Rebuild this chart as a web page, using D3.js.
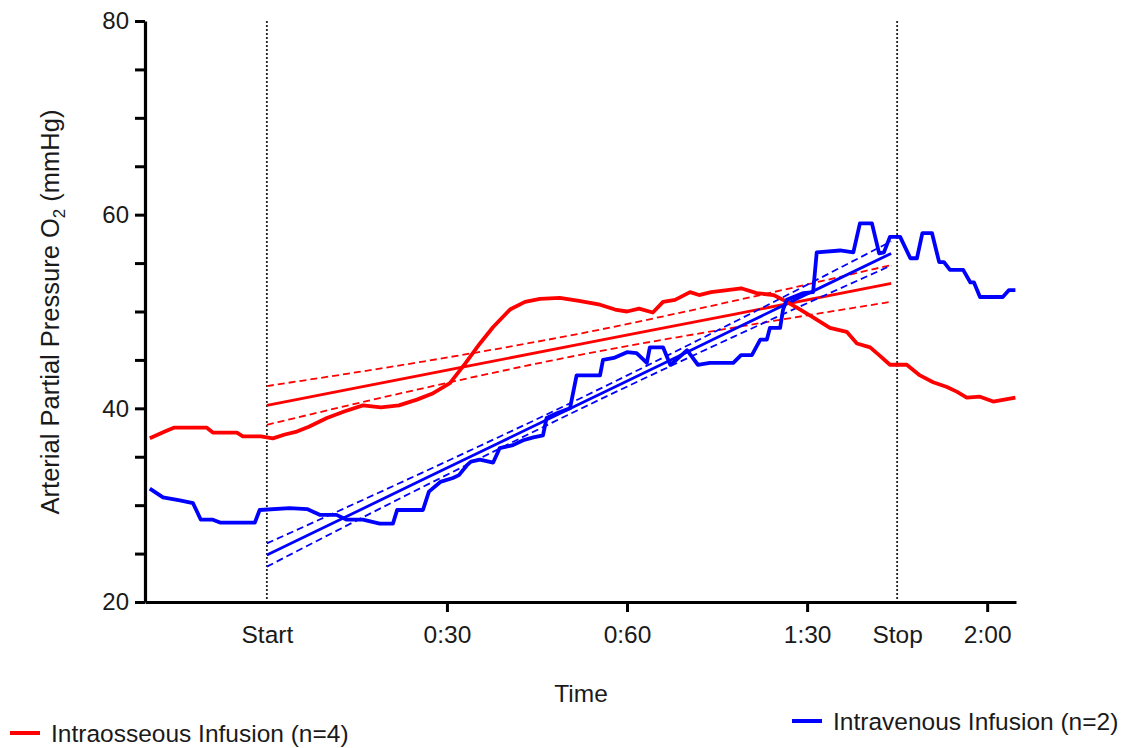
<!DOCTYPE html>
<html>
<head>
<meta charset="utf-8">
<script src="https://cdn.jsdelivr.net/npm/d3@7"></script>
<style>
  body { margin: 0; background: #fff; }
  text { font-family: "Liberation Sans", Arial, sans-serif; }
</style>
</head>
<body>
<div id="chart-area"></div>
<script>
// time in seconds after start, PaO2 in mmHg
const ioTime = [-19.5, -17, -15.5, -10, -9, -5, -4, -1, 0, 1, 3, 5, 7, 10, 13, 16, 19, 22, 25, 27.5, 30.5, 33, 35.5, 37.7, 40.5, 43, 45.5, 48.8, 52, 55.5, 58, 60, 62, 64.3, 66, 68, 70.5, 72, 74, 76.7, 79, 81.6, 84.4, 86, 88.3, 91, 93.8, 96.6, 98.3, 100.5, 102, 103.8, 106.6, 108.8, 111, 113.3, 115, 116.6, 118.8, 121, 124.7]
const ioValue = [36.9, 37.6, 38.0, 38.0, 37.5, 37.5, 37.1, 37.1, 37.0, 36.9, 37.3, 37.6, 38.1, 39.0, 39.7, 40.3, 40.1, 40.3, 40.9, 41.5, 42.6, 44.6, 46.7, 48.4, 50.2, 51.0, 51.3, 51.4, 51.1, 50.7, 50.2, 50.0, 50.3, 49.9, 51.0, 51.2, 52.0, 51.7, 52.0, 52.2, 52.4, 51.9, 51.7, 51.2, 50.4, 49.4, 48.3, 47.9, 46.7, 46.3, 45.5, 44.5, 44.5, 43.4, 42.7, 42.2, 41.7, 41.1, 41.2, 40.7, 41.1]

const ivTime = [-19.5, -17.3, -14.5, -12.3, -11, -9, -7.8, -2, -1.2, 3.8, 6.7, 8.8, 11.6, 13.3, 16, 18.8, 21, 21.7, 26, 27, 28.9, 31, 32, 33.3, 34, 35.5, 37.7, 38.8, 41, 42.7, 44.4, 46, 46.6, 48.3, 50.5, 51.6, 55.5, 56, 57.8, 60, 61.6, 63.3, 63.8, 66, 67.2, 68.2, 70, 71.8, 73.8, 77.7, 79, 80.8, 82.2, 83.3, 83.8, 85.5, 86, 86.6, 89.4, 91, 91.6, 95.5, 97.7, 98.8, 100.8, 102, 102.8, 103.8, 105.5, 107.2, 108.3, 109.2, 110.8, 112, 112.8, 113.8, 116, 117.2, 117.8, 118.8, 122.6, 123.6, 124.7]
const ivValue = [31.7, 30.8, 30.5, 30.2, 28.5, 28.5, 28.2, 28.2, 29.5, 29.7, 29.6, 29.0, 29.0, 28.5, 28.5, 28.1, 28.1, 29.5, 29.5, 31.4, 32.4, 32.8, 33.1, 34.1, 34.5, 34.7, 34.4, 35.9, 36.2, 36.7, 37.0, 37.2, 39.0, 39.5, 40.0, 43.4, 43.4, 45.0, 45.2, 45.8, 45.7, 44.7, 46.3, 46.3, 44.5, 45.0, 46.0, 44.5, 44.7, 44.7, 45.5, 45.5, 47.1, 47.1, 48.3, 48.3, 50.2, 51.2, 51.9, 52.0, 56.1, 56.3, 56.1, 59.1, 59.1, 56.0, 56.1, 57.7, 57.7, 55.5, 55.5, 58.1, 58.1, 55.1, 55.1, 54.3, 54.3, 53.0, 53.0, 51.5, 51.5, 52.2, 52.2]

// regression fits with 95% bands, read at these times
const fitTime = [0, 26, 52, 78, 104]
const ioFit = [40.3, 43.45, 46.6, 49.74, 52.9]
const ioUpper = [42.3, 44.83, 47.7, 51.12, 54.8]
const ioLower = [38.3, 42.07, 45.5, 48.36, 51.0]
const ivFit = [24.85, 32.64, 40.42, 48.21, 56.0]
const ivUpper = [26.05, 33.39, 40.97, 48.96, 57.25]
const ivLower = [23.65, 31.89, 39.87, 47.46, 54.75]

const xTicks = [0, 30, 60, 90, 105, 120]
const xTickLabels = ["Start", "0:30", "0:60", "1:30", "Stop", "2:00"]
const markerTimes = [0, 105]
const yTicks = [20, 40, 60, 80]

const RED = "#ff0000"
const BLUE = "#0000ff"
const INK = "#1a1a1a"

const svg = d3.select("#chart-area").append("svg")
  .attr("width", 1127)
  .attr("height", 748)

const x = d3.scaleLinear().domain([-20.3, 124.8]).range([145, 1016])
const y = d3.scaleLinear().domain([20, 80]).range([602, 21])

// dotted start / stop markers
svg.selectAll(".marker")
  .data(markerTimes)
  .enter().append("line")
  .attr("x1", d => x(d)).attr("x2", d => x(d))
  .attr("y1", y(80)).attr("y2", y(20))
  .attr("stroke", "#222")
  .attr("stroke-width", 1.8)
  .attr("stroke-dasharray", "2,2")

const line = d3.line().x(d => x(d[0])).y(d => y(d[1]))
const curve = d3.line().x(d => x(d[0])).y(d => y(d[1])).curve(d3.curveMonotoneX)

function zip(a, b) { return a.map((v, i) => [v, b[i]]) }

// fit lines + bands
const fits = [
  { v: ioUpper, c: RED, dash: true }, { v: ioLower, c: RED, dash: true }, { v: ioFit, c: RED, dash: false },
  { v: ivUpper, c: BLUE, dash: true }, { v: ivLower, c: BLUE, dash: true }, { v: ivFit, c: BLUE, dash: false }
]
fits.forEach(f => {
  svg.append("path")
    .attr("d", curve(zip(fitTime, f.v)))
    .attr("fill", "none")
    .attr("stroke", f.c)
    .attr("stroke-width", f.dash ? 1.8 : 2.8)
    .attr("stroke-dasharray", f.dash ? "7,4" : null)
})

// data traces
svg.append("path")
  .attr("d", line(zip(ioTime, ioValue)))
  .attr("fill", "none").attr("stroke", RED)
  .attr("stroke-width", 3.8).attr("stroke-linejoin", "round")
svg.append("path")
  .attr("d", line(zip(ivTime, ivValue)))
  .attr("fill", "none").attr("stroke", BLUE)
  .attr("stroke-width", 3.8).attr("stroke-linejoin", "round")

// y axis
const yAxis = svg.append("g")
  .attr("transform", `translate(${x.range()[0]},0)`)
  .call(d3.axisLeft(y).tickValues(d3.range(20, 81, 5)).tickSize(10).tickSizeOuter(0)
    .tickFormat(d => yTicks.includes(d) ? d : ""))
yAxis.select(".domain").attr("stroke-width", 3.2)
yAxis.selectAll(".tick line").attr("stroke-width", 3)
yAxis.selectAll(".tick text").attr("font-size", "24px").attr("fill", INK).attr("x", -16)

// x axis
const xAxis = svg.append("g")
  .attr("transform", `translate(0,${y.range()[0]})`)
  .call(d3.axisBottom(x).tickValues(xTicks).tickSize(10).tickSizeOuter(0)
    .tickFormat((d, i) => xTickLabels[i]))
xAxis.select(".domain").attr("stroke-width", 3.2)
xAxis.selectAll(".tick line").attr("stroke-width", 3)
  .attr("opacity", d => markerTimes.includes(d) ? 0 : 1)
xAxis.selectAll(".tick text").attr("font-size", "24.5px").attr("fill", INK).attr("y", 24)

// axis titles
svg.append("text")
  .attr("x", 581).attr("y", 702)
  .attr("text-anchor", "middle")
  .attr("font-size", "24.5px").attr("fill", INK)
  .text("Time")

const yLabel = svg.append("text")
  .attr("transform", "translate(59,312) rotate(-90)")
  .attr("text-anchor", "middle")
  .attr("font-size", "25.5px").attr("fill", INK)
yLabel.append("tspan").text("Arterial Partial Pressure O")
yLabel.append("tspan").attr("font-size", "17px").attr("dy", 6).text("2")
yLabel.append("tspan").attr("dy", -6).text(" (mmHg)")

// legend
const legend = [
  { label: "Intraosseous Infusion (n=4)", c: RED, x: 10, y: 733 },
  { label: "Intravenous Infusion (n=2)", c: BLUE, x: 792, y: 721 }
]
legend.forEach(l => {
  svg.append("line")
    .attr("x1", l.x).attr("x2", l.x + 30)
    .attr("y1", l.y).attr("y2", l.y)
    .attr("stroke", l.c).attr("stroke-width", 4)
  svg.append("text")
    .attr("x", l.x + 41).attr("y", l.y + 9)
    .attr("font-size", "24.5px").attr("fill", INK)
    .text(l.label)
})
</script>
</body>
</html>
